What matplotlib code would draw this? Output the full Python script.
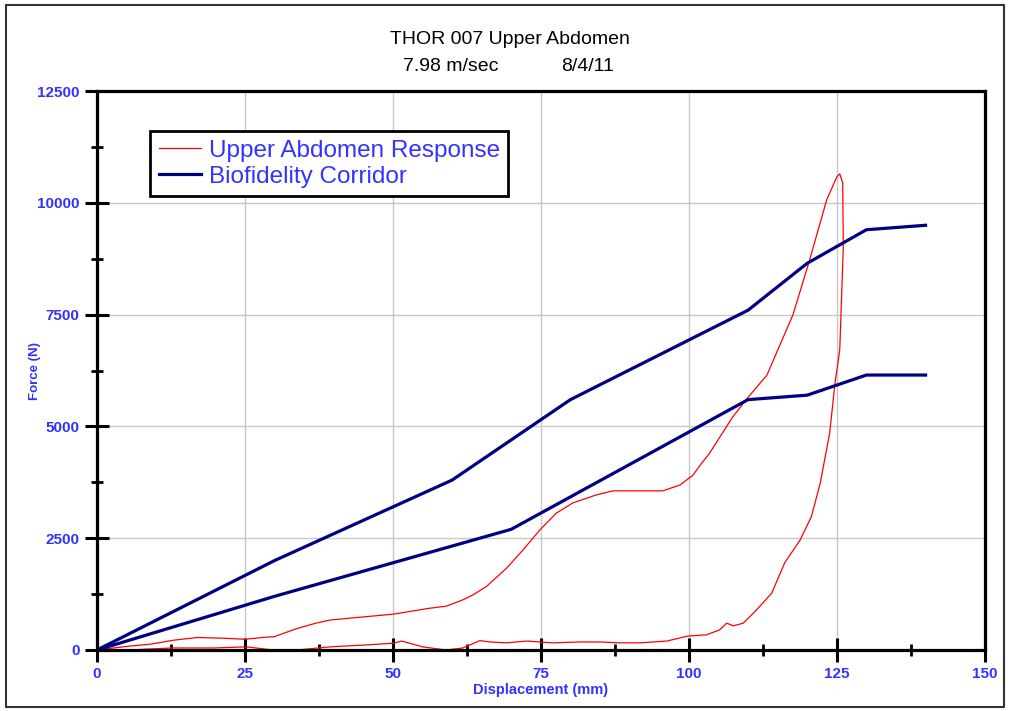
import numpy as np
import matplotlib.pyplot as plt
from matplotlib.patches import Rectangle
from matplotlib.ticker import MultipleLocator

# Upper abdomen response (loading then unloading, one path)
resp_x = [0, 5, 9, 13, 17, 22, 25, 28, 30, 33.8, 37, 39.4, 45, 50, 56, 59, 61.8,
          63.5, 65.8, 69.2, 72, 74.8, 77.6, 80.4, 84.4, 87.2, 95.6, 98.5, 100.7,
          102, 103.5, 107.4, 110, 113.2, 117.6, 120.4, 123.3, 125, 125.5, 126,
          126.1, 125.95, 125.5, 124.7, 123.8, 122.2, 120.7, 118.8, 116.2, 114,
          111.4, 109.2, 107.5, 106.4, 105.2, 103, 99.7, 98.5, 96.3, 91.7, 88.3,
          85, 81.6, 77, 72.6, 69.2, 66.4, 64.7, 61.8, 59, 55, 52.9, 51.5, 50,
          45, 39.4, 33.8, 29.7, 25.3, 19.6, 12.8, 8.4, 6]
resp_y = [0, 80, 130, 220, 280, 260, 240, 280, 300, 480, 600, 670, 740, 800, 930,
          980, 1120, 1230, 1420, 1830, 2240, 2680, 3060, 3290, 3470, 3560, 3560,
          3690, 3910, 4150, 4400, 5210, 5650, 6150, 7500, 8720, 10070, 10580,
          10650, 10450, 9000, 8430, 6710, 5970, 4850, 3730, 2980, 2460, 1950,
          1270, 890, 600, 540, 600, 450, 340, 310, 270, 200, 160, 160, 180, 180,
          160, 200, 160, 180, 210, 45, 0, 70, 150, 200, 150, 110, 70, 0, 0, 70,
          45, 45, 20, 0]

# Biofidelity corridor bounds
upper_x = [0, 30, 60, 80, 110, 120, 130, 140]
upper_y = [0, 2000, 3800, 5600, 7600, 8650, 9400, 9500]
lower_x = [0, 30, 70, 110, 120, 130, 140]
lower_y = [0, 1200, 2700, 5600, 5700, 6150, 6150]

blue_txt = '#3333ff'
plt.rcParams['font.family'] = ['Liberation Sans', 'DejaVu Sans']

fig = plt.figure(figsize=(10.1, 7.11), dpi=100)
ax = fig.add_axes([0.096, 0.0858, 0.879, 0.786])

ax.plot(resp_x, resp_y, color='#ff0000', lw=0.9, label='Upper Abdomen Response')
ax.plot(upper_x, upper_y, color='#000080', lw=2.3, label='Biofidelity Corridor')
ax.plot(lower_x, lower_y, color='#000080', lw=2.3)

ax.set_xlim(0, 150)
ax.set_ylim(0, 12500)
ax.xaxis.set_major_locator(MultipleLocator(25))
ax.xaxis.set_minor_locator(MultipleLocator(12.5))
ax.yaxis.set_major_locator(MultipleLocator(2500))
ax.yaxis.set_minor_locator(MultipleLocator(1250))
ax.grid(True, which='major', color='#c8c8c8', lw=1)
ax.set_axisbelow(True)

ax.tick_params(which='major', direction='inout', length=17, width=2.2,
               labelsize=11, labelcolor=blue_txt, pad=4)
ax.tick_params(which='minor', direction='inout', length=9, width=2)
for lbl in ax.get_xticklabels() + ax.get_yticklabels():
    lbl.set_fontweight('bold')
for s in ax.spines.values():
    s.set_linewidth(2.3)
    s.set_color('black')

ax.set_xlabel('Displacement (mm)', color=blue_txt, fontsize=10.5, labelpad=1,
              fontweight='bold')
ax.set_ylabel('Force (N)', color=blue_txt, fontsize=9.5, labelpad=-3,
              fontweight='bold')

leg = ax.legend(loc='upper left', bbox_to_anchor=(0.06, 0.928), fontsize=17.5,
                labelcolor=blue_txt, fancybox=False, framealpha=1,
                edgecolor='black', handlelength=1.75, handletextpad=0.3,
                labelspacing=0.15, borderpad=0.35, borderaxespad=0)
leg.get_frame().set_linewidth(2)

fig.text(0.505, 0.944, 'THOR 007 Upper Abdomen', ha='center', va='center',
         fontsize=14)
fig.text(0.446, 0.906, '7.98 m/sec', ha='center', va='center', fontsize=14)
fig.text(0.582, 0.906, '8/4/11', ha='center', va='center', fontsize=14)

fig.patches.append(Rectangle((0.006, 0.006), 0.988, 0.987, transform=fig.transFigure,
                             fill=False, edgecolor='#333333', lw=1.5))

fig.savefig('out.png', dpi=100)
